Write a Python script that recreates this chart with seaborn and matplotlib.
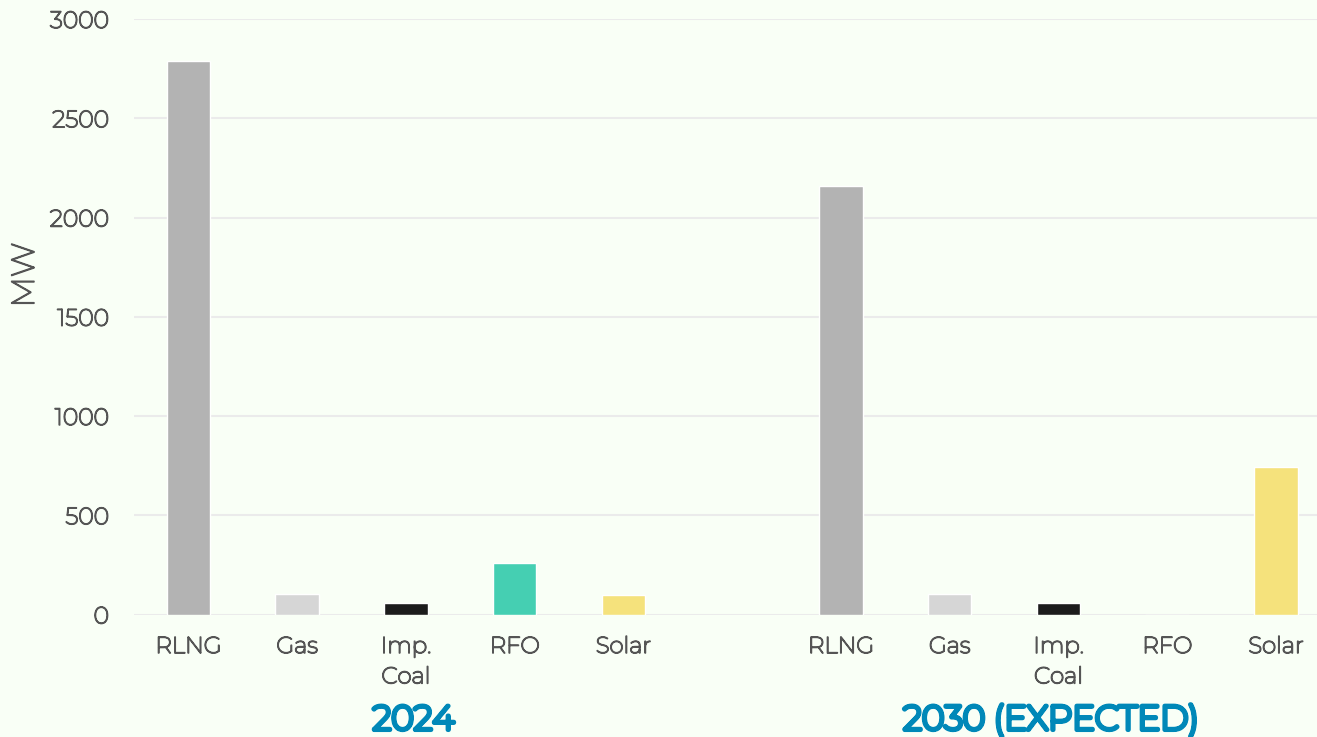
import matplotlib
matplotlib.use("Agg")
import matplotlib.pyplot as plt
import matplotlib.patheffects as pe
import seaborn as sns
import pandas as pd

fuels = ["RLNG", "Gas", "Imp.\nCoal", "RFO", "Solar"]
values_2024 = [2790, 105, 58, 260, 100]
values_2030 = [2160, 105, 58, 0, 745]
groups = ["2024", "2030 (EXPECTED)"]
fuel_colors = ["#B3B3B3", "#D6D6D6", "#1C1C1C", "#45CFB2", "#F5E27C"]
yticks = [0, 500, 1000, 1500, 2000, 2500, 3000]

rows = []
for g, vals in zip(groups, [values_2024, values_2030]):
    for f, v, c in zip(fuels, vals, fuel_colors):
        rows.append({"slot": f"{g}|{f}", "fuel": f, "group": g, "MW": v, "color": c})
df = pd.DataFrame(rows)

order = [f"{groups[0]}|{f}" for f in fuels] + ["gap"] + [f"{groups[1]}|{f}" for f in fuels]
palette = {r.slot: r.color for r in df.itertuples()}

bg = "#F9FFF6"
txt = "#555555"
blue = "#0088B8"
sns.set_theme(style="whitegrid")
plt.rcParams["font.family"] = ["Montserrat", "Lato", "DejaVu Sans"]


def thick(w, color):
    return [pe.Stroke(linewidth=w, foreground=color), pe.Normal()]


fig = plt.figure(figsize=(13.17, 7.37), dpi=100, facecolor=bg)
ax = fig.add_axes([134 / 1317, 1 - 614.5 / 737, (1317 - 134) / 1317, (614.5 - 19) / 737])
ax.set_facecolor(bg)

sns.barplot(data=df, x="slot", y="MW", hue="slot", order=order, palette=palette,
            width=0.40, legend=False, ax=ax, saturation=1)

ax.set_xlim(-0.5, 10 + (1317 - 1276) / 108.8)
ax.set_ylim(0, 3000)
ax.set_yticks(yticks)
ax.set_yticklabels([str(t) for t in yticks])
ax.grid(axis="y", color="#EBEBEB", linewidth=1.5)
ax.grid(axis="x", visible=False)
for s in ax.spines.values():
    s.set_visible(False)

ticklabels = fuels + [""] + fuels
ax.set_xticks(range(len(order)))
ax.set_xticklabels(ticklabels, fontsize=16.5, color=txt, linespacing=1.55, va="top")
ax.tick_params(axis="x", length=0, pad=15.5)
ax.tick_params(axis="y", length=0, pad=18, labelsize=17, labelcolor=txt)
for lab in ax.get_xticklabels() + ax.get_yticklabels():
    lab.set_path_effects(thick(1.1, txt))

ax.set_xlabel("")
ax.set_ylabel("MW", fontsize=23, color=txt)
ax.yaxis.set_label_coords((40 - 134) / 1183, (614.5 - 275) / 595.5)
ax.yaxis.label.set_path_effects(thick(1.1, txt))

group_centers = [2.07, 7.93]
for g, xc in zip(groups, group_centers):
    ax.text(xc, -0.178, g, transform=ax.get_xaxis_transform(), ha="center", va="center",
            fontsize=24.5, color=blue, path_effects=thick(3.3, blue))

fig.savefig("out.png", dpi=100, facecolor=bg)
